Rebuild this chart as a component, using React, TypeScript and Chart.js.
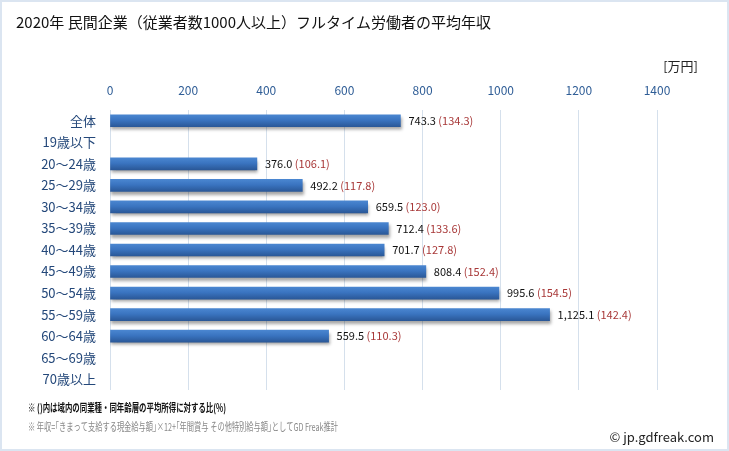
import React, { useEffect, useRef } from "react";
import { Chart, registerables } from "chart.js";

Chart.register(...registerables);

const TITLE = "2020年 民間企業（従業者数1000人以上）フルタイム労働者の平均年収";
const UNIT = "[万円]";
const categories = [
  "全体", "19歳以下", "20～24歳", "25～29歳", "30～34歳", "35～39歳", "40～44歳",
  "45～49歳", "50～54歳", "55～59歳", "60～64歳", "65～69歳", "70歳以上",
];
const incomes: (number | null)[] = [
  743.3, null, 376.0, 492.2, 659.5, 712.4, 701.7, 808.4, 995.6, 1125.1, 559.5, null, null,
];
const ratios: (number | null)[] = [
  134.3, null, 106.1, 117.8, 123.0, 133.6, 127.8, 152.4, 154.5, 142.4, 110.3, null, null,
];
const NOTE1 = "※ ()内は域内の同業種・同年齢層の平均所得に対する比(%)";
const NOTE2 = "※ 年収=｢きまって支給する現金給与額｣×12+｢年間賞与 その他特別給与額｣としてGD Freak推計";
const CREDIT = "© jp.gdfreak.com";

const FONT = "'Noto Sans CJK JP', 'Noto Sans', sans-serif";

function fmt(v: number): string {
  return v.toLocaleString("en-US", { minimumFractionDigits: 1, maximumFractionDigits: 1 });
}

const decor = {
  id: "decor",
  beforeDraw(chart: any) {
    const ctx = chart.ctx;
    ctx.save();
    ctx.fillStyle = "#ffffff";
    ctx.fillRect(0, 0, chart.width, chart.height);
    ctx.strokeStyle = "#dbe5f1";
    ctx.lineWidth = 2;
    ctx.strokeRect(1, 1, chart.width - 2, chart.height - 2);
    ctx.restore();
  },
  beforeDatasetDraw(chart: any) {
    const ctx = chart.ctx;
    ctx.save();
    ctx.shadowColor = "rgba(0,0,0,0.35)";
    ctx.shadowBlur = 3;
    ctx.shadowOffsetX = 1;
    ctx.shadowOffsetY = 3;
  },
  afterDatasetDraw(chart: any) {
    chart.ctx.restore();
  },
  afterDraw(chart: any) {
    const ctx = chart.ctx;
    ctx.save();
    ctx.fillStyle = "#111111";
    ctx.font = `15px ${FONT}`;
    ctx.textBaseline = "middle";
    ctx.textAlign = "left";
    ctx.fillText(TITLE, 16, 22, 482);
    ctx.font = `13px ${FONT}`;
    ctx.fillStyle = "#222222";
    ctx.textAlign = "right";
    ctx.fillText(UNIT, 698, 66);
    const meta = chart.getDatasetMeta(0);
    ctx.textAlign = "left";
    ctx.font = `11px ${FONT}`;
    meta.data.forEach((bar: any, i: number) => {
      const v = incomes[i];
      const r = ratios[i];
      if (v == null) return;
      const x = bar.x + 8;
      const y = bar.y;
      const a = fmt(v);
      ctx.fillStyle = "#111111";
      ctx.fillText(a, x, y);
      const w = ctx.measureText(a + " ").width;
      if (r != null) {
        ctx.fillStyle = "#a83838";
        ctx.fillText(`(${fmt(r)})`, x + w, y);
      }
    });
    ctx.font = `bold 11px ${FONT}`;
    ctx.fillStyle = "#111111";
    ctx.fillText(NOTE1, 28, 408, 198);
    ctx.font = `11px ${FONT}`;
    ctx.fillStyle = "#888888";
    ctx.fillText(NOTE2, 28, 427, 310);
    ctx.font = `13px ${FONT}`;
    ctx.fillStyle = "#222222";
    ctx.textAlign = "right";
    ctx.fillText(CREDIT, 714, 437);
    ctx.restore();
  },
};

export default function App() {
  const ref = useRef<HTMLCanvasElement>(null);
  useEffect(() => {
    if (!ref.current) return;
    const chart = new Chart(ref.current, {
      type: "bar",
      data: {
        labels: categories,
        datasets: [
          {
            data: incomes as any,
            barThickness: 12,
            backgroundColor: (c: any) => {
              const ch = c.chart;
              const ys = ch.scales?.y;
              if (!ys) return "#3a70b8";
              const yc = ys.getPixelForValue(c.dataIndex);
              if (!isFinite(yc)) return "#3a70b8";
              const g = ch.ctx.createLinearGradient(0, yc - 6, 0, yc + 6);
              g.addColorStop(0, "#4a86d0");
              g.addColorStop(0.45, "#3a74c0");
              g.addColorStop(1, "#2a5898");
              return g;
            },
            borderWidth: 0,
          },
        ],
      },
      options: {
        indexAxis: "y",
        responsive: false,
        animation: false,
        devicePixelRatio: 1,
        layout: { padding: { left: 0, right: 72, top: 0, bottom: 61 } },
        plugins: { legend: { display: false }, tooltip: { enabled: false }, title: { display: false } },
        scales: {
          x: {
            type: "linear",
            position: "top",
            min: 0,
            max: 1400,
            afterFit: (s: any) => { s.height = 110; },
            ticks: {
              stepSize: 200,
              color: "#2f5d96",
              font: { size: 12, family: FONT },
              padding: 12,
              callback: (v: any) => String(v),
            },
            grid: { color: "#d5e0ec", drawTicks: false },
            border: { display: false },
          },
          y: {
            type: "category",
            afterFit: (s: any) => { s.width = 110; },
            ticks: { color: "#24487a", font: { size: 13, family: FONT }, padding: 14 },
            grid: { display: false, drawTicks: false },
            border: { display: false },
          },
        },
      } as any,
      plugins: [decor],
    });
    return () => chart.destroy();
  }, []);
  return (
    <div style={{ position: "fixed", left: 0, top: 0, width: 729, height: 451 }}>
      <canvas ref={ref} width={729} height={451} style={{ width: 729, height: 451 }} />
    </div>
  );
}
